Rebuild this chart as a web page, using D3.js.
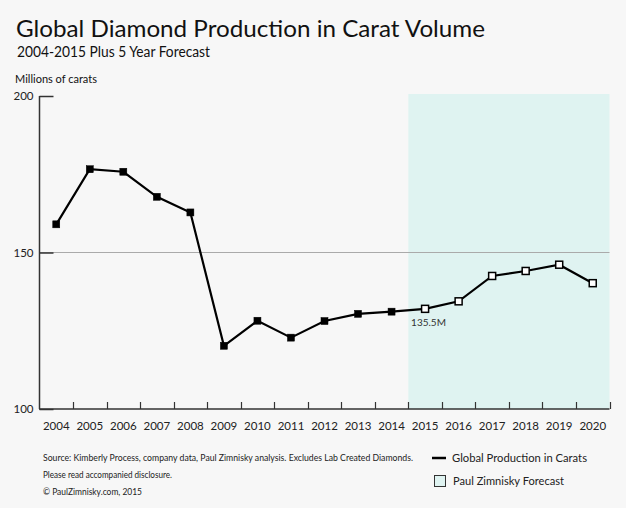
<!DOCTYPE html>
<html><head><meta charset="utf-8">
<script src="https://cdn.jsdelivr.net/npm/d3@7"></script>
<style>
html,body{margin:0;padding:0;background:#f7f7f7;}
svg{display:block;font-family:Lato,"Open Sans",sans-serif;}
</style></head>
<body>
<script>
const years = [2004,2005,2006,2007,2008,2009,2010,2011,2012,2013,2014,2015,2016,2017,2018,2019,2020];
const production = [159.0,176.6,175.8,167.8,162.8,120.2,128.2,122.8,128.1,130.4,131.1,132.0,134.4,142.5,144.1,146.1,140.2];
const forecastStart = 2015;
const yTicks = [100,150,200];
const annotation = {year:2015, text:"135.5M"};

const W=626,H=508;
const svg=d3.select("body").append("svg").attr("width",W).attr("height",H);
svg.append("rect").attr("width",W).attr("height",H).attr("fill","#f7f7f7");

const pL=39.5,pR=609.5,pT=96,pB=409;
const x=d3.scaleBand().domain(years).range([pL,pR]).padding(0);
const y=d3.scaleLinear().domain([100,200]).range([pB,pT]);
const cx=d=>x(d)+x.bandwidth()/2;

// forecast shading
svg.append("rect").attr("x",x(forecastStart)).attr("y",pT-2)
  .attr("width",pR-x(forecastStart)).attr("height",pB-pT+2)
  .attr("fill","#dff3f1");

// gridline at 150
svg.append("line").attr("x1",pL).attr("x2",pR).attr("y1",y(150)).attr("y2",y(150))
  .attr("stroke","#aaaaaa").attr("stroke-width",1);

// y axis
const ya=svg.append("g").attr("transform",`translate(${pL},0)`)
  .call(d3.axisLeft(y).tickValues(yTicks).tickSize(-14).tickPadding(6).tickFormat(d3.format("d")));
ya.select(".domain").attr("stroke","#333").attr("stroke-width",1.5).attr("d",`M0,${pT}V${pB}`);
ya.selectAll(".tick line").attr("stroke","#333").attr("stroke-width",1.5);
ya.selectAll(".tick text").attr("font-family","Lato").attr("font-size",11.5).attr("fill","#222");

// x axis labels
const xa=svg.append("g").attr("transform",`translate(0,${pB})`)
  .call(d3.axisBottom(x).tickSize(0).tickPadding(13));
xa.select(".domain").remove();
xa.selectAll(".tick text").attr("font-family","Lato").attr("font-size",11.5).attr("fill","#222");
svg.append("line").attr("x1",pL-0.5).attr("x2",pR).attr("y1",pB).attr("y2",pB)
  .attr("stroke","#333").attr("stroke-width",1.5);
svg.append("g").selectAll("line").data(years).join("line")
  .attr("x1",d=>Math.round(x(d)+x.bandwidth())+0.5).attr("x2",d=>Math.round(x(d)+x.bandwidth())+0.5)
  .attr("y1",pB).attr("y2",pB-7).attr("stroke","#333").attr("stroke-width",1.2);

// line
const pts=years.map((yr,i)=>({yr,v:production[i]}));
svg.append("path").datum(pts)
  .attr("d",d3.line().x(d=>cx(d.yr)).y(d=>y(d.v)))
  .attr("fill","none").attr("stroke","#000").attr("stroke-width",2.2);

// markers
svg.append("g").selectAll("rect").data(pts).join("rect")
  .attr("x",d=>cx(d.yr)-3.5).attr("y",d=>y(d.v)-3.5).attr("width",7).attr("height",7)
  .attr("fill",d=>d.yr>=forecastStart?"#fff":"#000")
  .attr("stroke","#000").attr("stroke-width",d=>d.yr>=forecastStart?1.5:0.5);

// annotation
const ai=years.indexOf(annotation.year);
svg.append("text").attr("x",cx(annotation.year)-14).attr("y",y(production[ai])+17)
  .attr("font-size",10).attr("fill","#333").text(annotation.text);

// titles
svg.append("text").attr("x",16).attr("y",37).attr("font-size",24).attr("fill","#111")
  .attr("textLength",469).attr("lengthAdjust","spacingAndGlyphs")
  .text("Global Diamond Production in Carat Volume");
svg.append("text").attr("x",17).attr("y",57).attr("font-size",14.5).attr("fill","#111")
  .attr("textLength",193).attr("lengthAdjust","spacingAndGlyphs")
  .text("2004-2015 Plus 5 Year Forecast");
svg.append("text").attr("x",15).attr("y",83).attr("font-size",11).attr("fill","#111")
  .attr("textLength",82).attr("lengthAdjust","spacingAndGlyphs")
  .text("Millions of carats");

// footer
const foot=[
 {t:"Source: Kimberly Process, company data, Paul Zimnisky analysis.  Excludes Lab Created Diamonds.",y:461,w:370},
 {t:"Please read accompanied disclosure.",y:478,w:129},
 {t:"\u00A9 PaulZimnisky.com, 2015",y:495,w:99}
];
svg.append("g").selectAll("text").data(foot).join("text")
  .attr("x",43).attr("y",d=>d.y).attr("font-size",9.5).attr("fill","#222")
  .attr("textLength",d=>d.w).attr("lengthAdjust","spacingAndGlyphs")
  .text(d=>d.t);

// legend
svg.append("line").attr("x1",432).attr("x2",446).attr("y1",458).attr("y2",458)
  .attr("stroke","#000").attr("stroke-width",2.5);
svg.append("text").attr("x",452).attr("y",462).attr("font-size",12).attr("fill","#222")
  .attr("textLength",135).attr("lengthAdjust","spacingAndGlyphs")
  .text("Global Production in Carats");
svg.append("rect").attr("x",434.5).attr("y",475.5).attr("width",11).attr("height",11)
  .attr("fill","#dff3f1").attr("stroke","#333").attr("stroke-width",1);
svg.append("text").attr("x",453).attr("y",485).attr("font-size",12).attr("fill","#222")
  .attr("textLength",111).attr("lengthAdjust","spacingAndGlyphs")
  .text("Paul Zimnisky Forecast");
</script>
</body></html>
